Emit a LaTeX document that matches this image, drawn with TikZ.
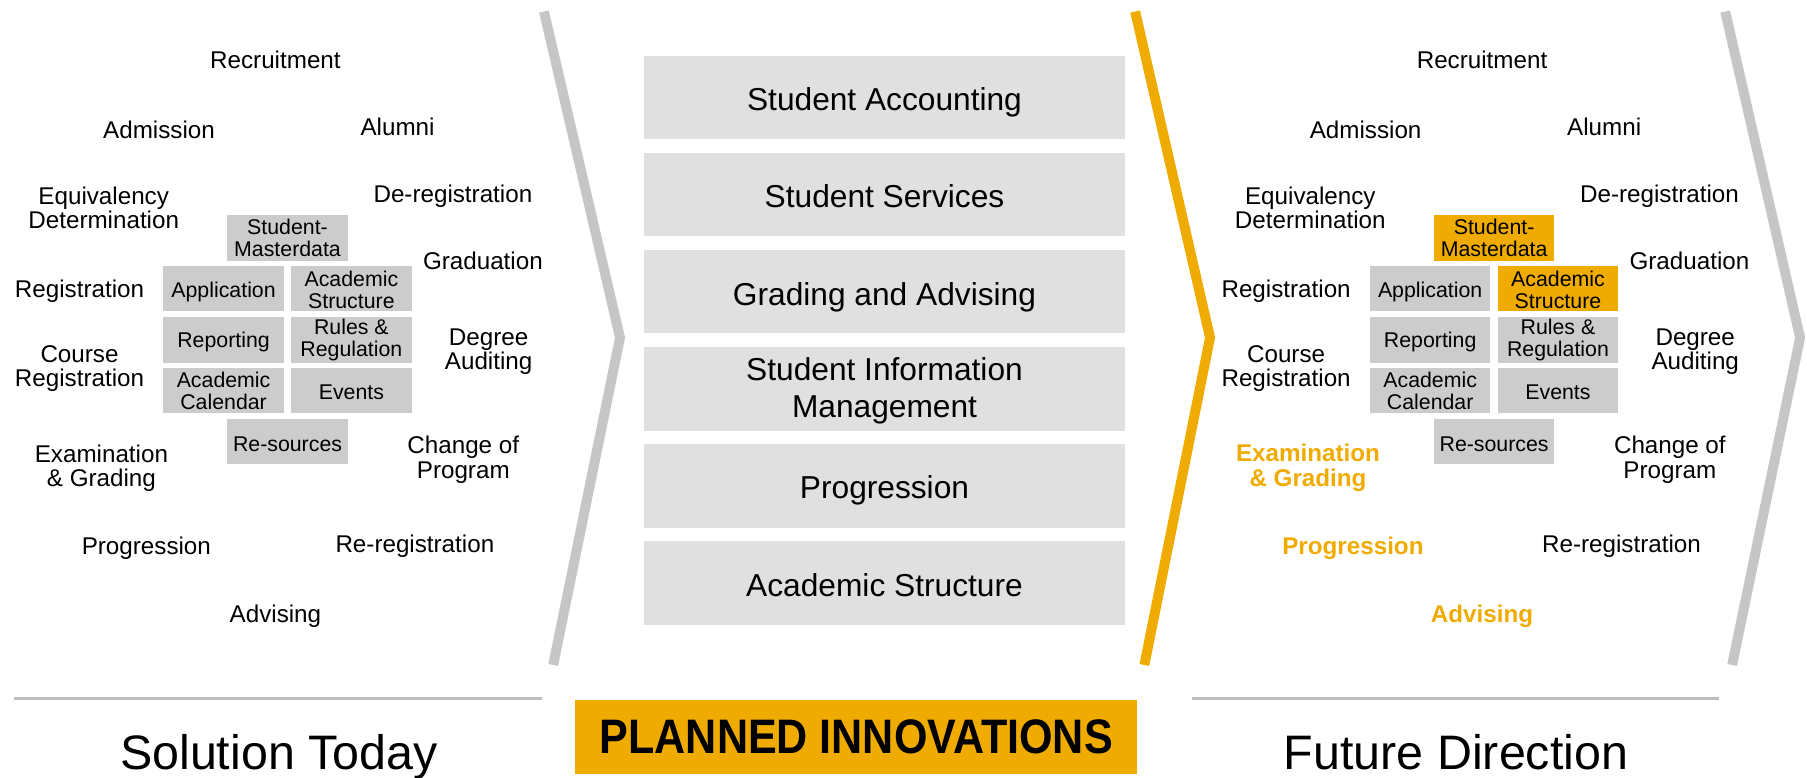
\documentclass[tikz,border=0pt]{standalone}
\usepackage{fontspec}
\setmainfont{Liberation Sans}
\definecolor{sapgold}{HTML}{F0AB00}
\definecolor{boxgray}{HTML}{CCCCCC}
\definecolor{midgray}{HTML}{E0E0E0}
\definecolor{chevgray}{HTML}{C6C6C6}
\definecolor{linegray}{HTML}{BEBEBE}
\begin{document}
\begin{tikzpicture}[x=1pt,y=-1pt,
  lbl/.style={font=\fontsize{21}{21}\selectfont, align=center, inner sep=0pt},
  hl/.style={lbl, font=\fontsize{21}{21}\selectfont\bfseries, text=sapgold},
  sbox/.style={fill=boxgray, minimum width=104.5pt, minimum height=39.4pt, inner sep=0pt},
  obox/.style={sbox, fill=sapgold},
  stxt/.style={inner sep=0pt, align=center, font=\fontsize{18.5}{18.5}\selectfont},
  mbox/.style={fill=midgray, minimum width=417pt, minimum height=72.5pt, inner sep=0pt},
  mtxt/.style={inner sep=0pt, align=center, font=\fontsize{27.5}{32}\selectfont},
  chev/.style={line width=8.6pt},
  sep/.style={draw=linegray, line width=2.6pt},
  title/.style={font=\fontsize{42}{42}\selectfont, inner sep=0pt, anchor=base},
]
\useasboundingbox (0,0) rectangle (1568,675);

% ---------- left panel: Solution Today ----------
\begin{scope}
\node[lbl] (l-recr) at (239,52) {Recruitment};
\node[lbl] (l-adm) at (138,113) {Admission};
\node[lbl] (l-alu) at (345,110) {Alumni};
\node[lbl] (l-equ) at (90,180.5) {Equivalency\\Determination};
\node[lbl] (l-dereg) at (393,170) {De-registration};
\node[lbl] (l-grad) at (419,226) {Graduation};
\node[lbl] (l-reg) at (69,253) {Registration};
\node[lbl] (l-deg) at (424,305) {Degree\\Auditing};
\node[lbl] (l-creg) at (69,320) {Course\\Registration};
\node[lbl] (l-exam) at (88,406) {Examination\\\& Grading};
\node[lbl] (l-chg) at (402,399) {Change of\\Program};
\node[lbl] (l-prog) at (127,476) {Progression};
\node[lbl] (l-rereg) at (360,474) {Re-registration};
\node[lbl] (l-adv) at (239,535) {Advising};
\node[sbox] (l-smd) at (249.5,206.4) {};
\node[sbox] (l-app) at (194,250.5) {};
\node[sbox] (l-acs) at (304.9,250.5) {};
\node[sbox] (l-rep) at (194,295) {};
\node[sbox] (l-rul) at (304.9,295) {};
\node[sbox] (l-cal) at (194,339.1) {};
\node[sbox] (l-evt) at (304.9,339.1) {};
\node[sbox] (l-res) at (249.5,383.3) {};
\node[stxt, yshift=0pt] (l-smd-t) at (l-smd) {Student-\\Masterdata};
\node[stxt, yshift=-3pt] (l-app-t) at (l-app) {Application};
\node[stxt, yshift=-1pt] (l-acs-t) at (l-acs) {Academic\\Structure};
\node[stxt, yshift=-2pt] (l-rep-t) at (l-rep) {Reporting};
\node[stxt, yshift=0pt] (l-rul-t) at (l-rul) {Rules \&\\Regulation};
\node[stxt, yshift=0pt] (l-cal-t) at (l-cal) {Academic\\Calendar};
\node[stxt, yshift=-1pt] (l-evt-t) at (l-evt) {Events};
\node[stxt, yshift=-2pt] (l-res-t) at (l-res) {Re-sources};
\end{scope}

% ---------- right panel: Future Direction ----------
\begin{scope}[xshift=1047pt]
\node[lbl] (r-recr) at (239,52) {Recruitment};
\node[lbl] (r-adm) at (138,113) {Admission};
\node[lbl] (r-alu) at (345,110) {Alumni};
\node[lbl] (r-equ) at (90,180.5) {Equivalency\\Determination};
\node[lbl] (r-dereg) at (393,170) {De-registration};
\node[lbl] (r-grad) at (419,226) {Graduation};
\node[lbl] (r-reg) at (69,253) {Registration};
\node[lbl] (r-deg) at (424,305) {Degree\\Auditing};
\node[lbl] (r-creg) at (69,320) {Course\\Registration};
\node[hl] (r-exam) at (88,406) {Examination\\\& Grading};
\node[lbl] (r-chg) at (402,399) {Change of\\Program};
\node[hl] (r-prog) at (127,476) {Progression};
\node[lbl] (r-rereg) at (360,474) {Re-registration};
\node[hl] (r-adv) at (239,535) {Advising};
\node[obox] (r-smd) at (249.5,206.4) {};
\node[sbox] (r-app) at (194,250.5) {};
\node[obox] (r-acs) at (304.9,250.5) {};
\node[sbox] (r-rep) at (194,295) {};
\node[sbox] (r-rul) at (304.9,295) {};
\node[sbox] (r-cal) at (194,339.1) {};
\node[sbox] (r-evt) at (304.9,339.1) {};
\node[sbox] (r-res) at (249.5,383.3) {};
\node[stxt, yshift=0pt] (r-smd-t) at (r-smd) {Student-\\Masterdata};
\node[stxt, yshift=-3pt] (r-app-t) at (r-app) {Application};
\node[stxt, yshift=-1pt] (r-acs-t) at (r-acs) {Academic\\Structure};
\node[stxt, yshift=-2pt] (r-rep-t) at (r-rep) {Reporting};
\node[stxt, yshift=0pt] (r-rul-t) at (r-rul) {Rules \&\\Regulation};
\node[stxt, yshift=0pt] (r-cal-t) at (r-cal) {Academic\\Calendar};
\node[stxt, yshift=-1pt] (r-evt-t) at (r-evt) {Events};
\node[stxt, yshift=-2pt] (r-res-t) at (r-res) {Re-sources};
\end{scope}

% ---------- middle: planned innovations ----------
\node[mbox] (m1) at (767.5,84.5) {};
\node[mbox] (m2) at (767.5,168.8) {};
\node[mbox] (m3) at (767.5,253.1) {};
\node[mbox] (m4) at (767.5,337.4) {};
\node[mbox] (m5) at (767.5,421.7) {};
\node[mbox] (m6) at (767.5,506) {};
\node[mtxt, yshift=-4pt] (m1-t) at (m1) {Student Accounting};
\node[mtxt, yshift=-1.5pt] (m2-t) at (m2) {Student Services};
\node[mtxt, yshift=-5pt] (m3-t) at (m3) {Grading and Advising};
\node[mtxt, yshift=-2pt] (m4-t) at (m4) {Student Information\\Management};
\node[mtxt, yshift=-4pt] (m5-t) at (m5) {Progression};
\node[mtxt, yshift=-2pt] (m6-t) at (m6) {Academic Structure};

% ---------- chevrons ----------
\draw[chev, draw=chevgray] (472,10) -- (538,293) -- (480,577);
\draw[chev, draw=sapgold] (985,10) -- (1050,293) -- (993,577);
\draw[chev, draw=chevgray] (1497,10) -- (1562,293) -- (1503,577);

% ---------- bottom titles ----------
\coordinate (s1a) at (12,606);
\coordinate (s1b) at (470,606);
\coordinate (s2a) at (1034,606);
\coordinate (s2b) at (1492,606);
\draw[sep] (s1a) -- (s1b);
\draw[sep] (s2a) -- (s2b);
\node[title] (t-today) at (242,668) {Solution Today};
\node[fill=sapgold, minimum width=488pt, minimum height=65pt, inner sep=0pt] (t-plan) at (743,639.5)
  {\scalebox{0.89}[1]{\fontsize{42}{42}\selectfont\bfseries PLANNED INNOVATIONS}};
\node[title] (t-future) at (1263.5,668) {Future Direction};
\end{tikzpicture}
\end{document}
